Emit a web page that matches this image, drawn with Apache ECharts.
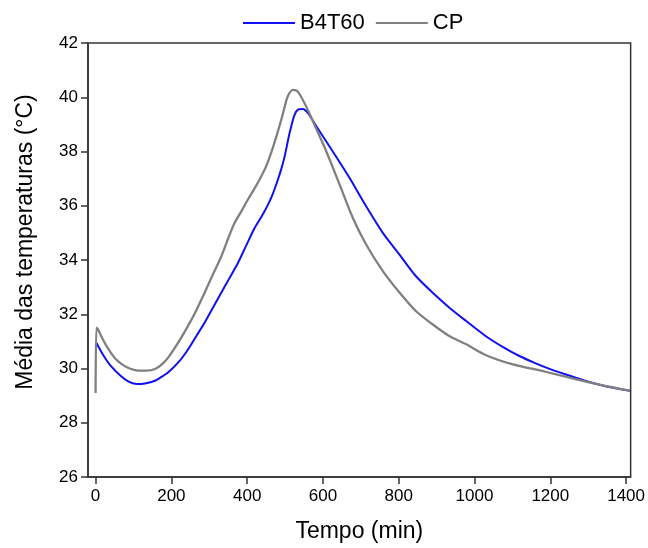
<!DOCTYPE html>
<html>
<head>
<meta charset="utf-8">
<script src="https://cdn.jsdelivr.net/npm/echarts@6/dist/echarts.min.js"></script>
<style>html,body{margin:0;padding:0;background:#fff}#c{width:648px;height:548px}</style>
</head>
<body>
<div id="c"></div>
<script>
var seriesNames = ['B4T60', 'CP'];
var xTicks = [0, 200, 400, 600, 800, 1000, 1200, 1400];

var tB4T60 = [2, 20, 40, 69, 90, 109, 130, 157, 175, 192, 220, 244, 266, 288, 310, 332, 354, 376, 398, 420, 440, 455, 468, 481, 490, 499, 512, 525, 535, 547, 560, 583, 626, 670, 714, 758, 802, 845, 889, 933, 977, 1029, 1080, 1117, 1160, 1205, 1250, 1292, 1330, 1362, 1410];
var vB4T60 = [30.95, 30.5, 30.1, 29.7, 29.5, 29.43, 29.45, 29.55, 29.7, 29.86, 30.25, 30.7, 31.2, 31.7, 32.25, 32.8, 33.35, 33.9, 34.55, 35.19, 35.65, 36.04, 36.45, 36.96, 37.35, 37.82, 38.68, 39.35, 39.55, 39.57, 39.42, 38.92, 38.0, 37.03, 35.98, 35.0, 34.2, 33.41, 32.8, 32.25, 31.76, 31.2, 30.75, 30.47, 30.2, 29.95, 29.74, 29.55, 29.4, 29.3, 29.18];

var tCP = [0, 1, 2, 6, 20, 34, 50, 69, 90, 113, 135, 157, 175, 192, 218, 244, 266, 288, 310, 332, 350, 367, 385, 402, 420, 437, 450, 463, 477, 490, 500, 507, 520, 530, 539, 560, 574, 609, 644, 679, 714, 758, 802, 845, 889, 933, 977, 1029, 1099, 1187, 1266, 1345, 1410];
var vCP = [29.1, 29.1, 31.5, 31.45, 31.05, 30.71, 30.4, 30.16, 30.0, 29.92, 29.92, 29.98, 30.15, 30.41, 30.95, 31.57, 32.15, 32.8, 33.48, 34.14, 34.8, 35.37, 35.8, 36.23, 36.65, 37.08, 37.45, 37.94, 38.55, 39.17, 39.7, 40.03, 40.27, 40.25, 40.1, 39.54, 39.1, 38.0, 36.78, 35.55, 34.57, 33.59, 32.8, 32.12, 31.63, 31.2, 30.9, 30.5, 30.16, 29.88, 29.61, 29.36, 29.18];

function pairs(t, v) { return t.map(function (x, i) { return [x, v[i]]; }); }

var font = 'Liberation Sans, Arial, sans-serif';
var chart = echarts.init(document.getElementById('c'), null, {renderer: 'canvas'});
chart.setOption({
  animation: false,
  backgroundColor: '#fff',
  legend: {
    data: seriesNames,
    left: 238, top: 7,
    icon: 'rect', itemWidth: 52, itemHeight: 2, itemGap: 11,
    textStyle: {fontFamily: font, fontSize: 22, color: '#000'}
  },
  grid: {left: 88, right: 16, top: 43, bottom: 70, show: true, borderColor: '#333', borderWidth: 1.5, containLabel: false},
  xAxis: {
    type: 'value', min: -20, max: 1412,
    name: 'Tempo (min)', nameLocation: 'middle', nameGap: 43,
    nameTextStyle: {fontFamily: font, fontSize: 23, color: '#000'},
    axisLine: {show: true, onZero: false, lineStyle: {color: '#333', width: 1.5}},
    axisTick: {show: true, length: 7, lineStyle: {color: '#333', width: 1.5}, customValues: xTicks},
    axisLabel: {fontFamily: font, fontSize: 17, color: '#000', margin: 11, customValues: xTicks,
      formatter: function (v) { return String(v); }},
    splitLine: {show: false}
  },
  yAxis: {
    type: 'value', min: 26, max: 42, interval: 2,
    name: 'Média das temperaturas (°C)', nameLocation: 'middle', nameGap: 51,
    nameTextStyle: {fontFamily: font, fontSize: 23, color: '#000', padding: [0, 0, 0, 36]},
    axisLine: {show: true, onZero: false, lineStyle: {color: '#333', width: 1.5}},
    axisTick: {show: true, length: 7, lineStyle: {color: '#333', width: 1.5}},
    axisLabel: {fontFamily: font, fontSize: 17, color: '#000', margin: 10},
    splitLine: {show: false}
  },
  series: [
    {name: seriesNames[0], type: 'line', data: pairs(tB4T60, vB4T60), showSymbol: false, smooth: 0.25,
     lineStyle: {color: '#1010f0', width: 2}, itemStyle: {color: '#1010f0'}},
    {name: seriesNames[1], type: 'line', data: pairs(tCP, vCP), showSymbol: false, smooth: 0.25,
     lineStyle: {color: '#808080', width: 2.3}, itemStyle: {color: '#808080'}}
  ]
});
</script>
</body>
</html>
